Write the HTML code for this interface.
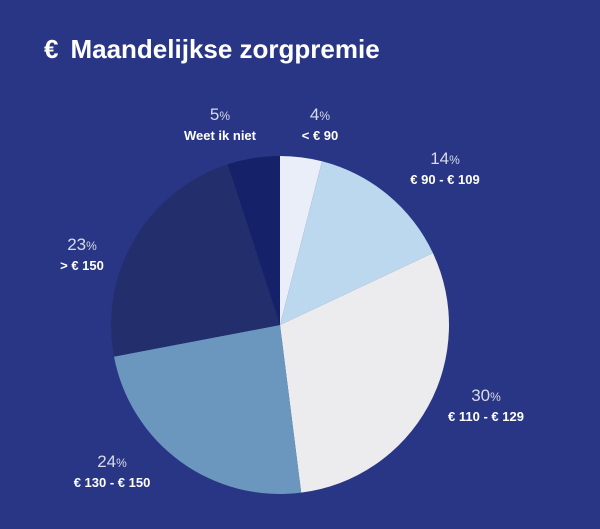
<!DOCTYPE html>
<html><head><meta charset="utf-8"><style>
html,body{margin:0;padding:0;background:#293685;}
body{width:600px;height:529px;overflow:hidden;position:relative;font-family:"Liberation Sans",sans-serif;}
.title{position:absolute;left:44px;top:34px;color:#fff;font-weight:bold;font-size:26px;white-space:nowrap;}
.title .eur{margin-right:12px;}
svg{position:absolute;left:0;top:0;}
.pct{fill:#d8dbe8;font-size:17px;}
.pct tspan{font-size:12px;}
.cat{fill:#fff;font-size:13px;font-weight:bold;}
</style></head><body>
<div class="title"><span class="eur">€</span>Maandelijkse zorgpremie</div>
<svg id="chart" width="600" height="529"></svg>
<script>
const categories=["< € 90","€ 90 - € 109","€ 110 - € 129","€ 130 - € 150","> € 150","Weet ik niet"];
const values=[4,14,30,24,23,5];
const colors=["#e9eef9","#bcd8ee","#ececee","#6b96bd","#232f6c","#15226a"];
const labelPos=[[320,120],[445,164],[486,401],[112,467],[82,250],[220,120]];
const cx=280,cy=325,r=169;
const svg=document.getElementById('chart');
const NS="http://www.w3.org/2000/svg";
const total=values.reduce((a,b)=>a+b,0);
let a0=0;
function pt(a){return [cx+r*Math.sin(a),cy-r*Math.cos(a)];}
values.forEach((v,i)=>{
  const a1=a0+v/total*Math.PI*2;
  const p0=pt(a0),p1=pt(a1);
  const path=document.createElementNS(NS,'path');
  path.setAttribute('d',`M${cx},${cy}L${p0[0]},${p0[1]}A${r},${r} 0 ${a1-a0>Math.PI?1:0} 1 ${p1[0]},${p1[1]}Z`);
  path.setAttribute('fill',colors[i]);
  
  
  svg.appendChild(path);
  a0=a1;
  const [lx,ly]=labelPos[i];
  const t=document.createElementNS(NS,'text');
  t.setAttribute('x',lx);t.setAttribute('y',ly);t.setAttribute('text-anchor','middle');
  t.setAttribute('class','pct');
  t.innerHTML=v+'<tspan>%</tspan>';
  
  
  svg.appendChild(t);
  const c=document.createElementNS(NS,'text');
  c.setAttribute('x',lx);c.setAttribute('y',ly+20);c.setAttribute('text-anchor','middle');
  c.setAttribute('class','cat');
  c.textContent=categories[i];
  
  
  svg.appendChild(c);
});
</script>
</body></html>
